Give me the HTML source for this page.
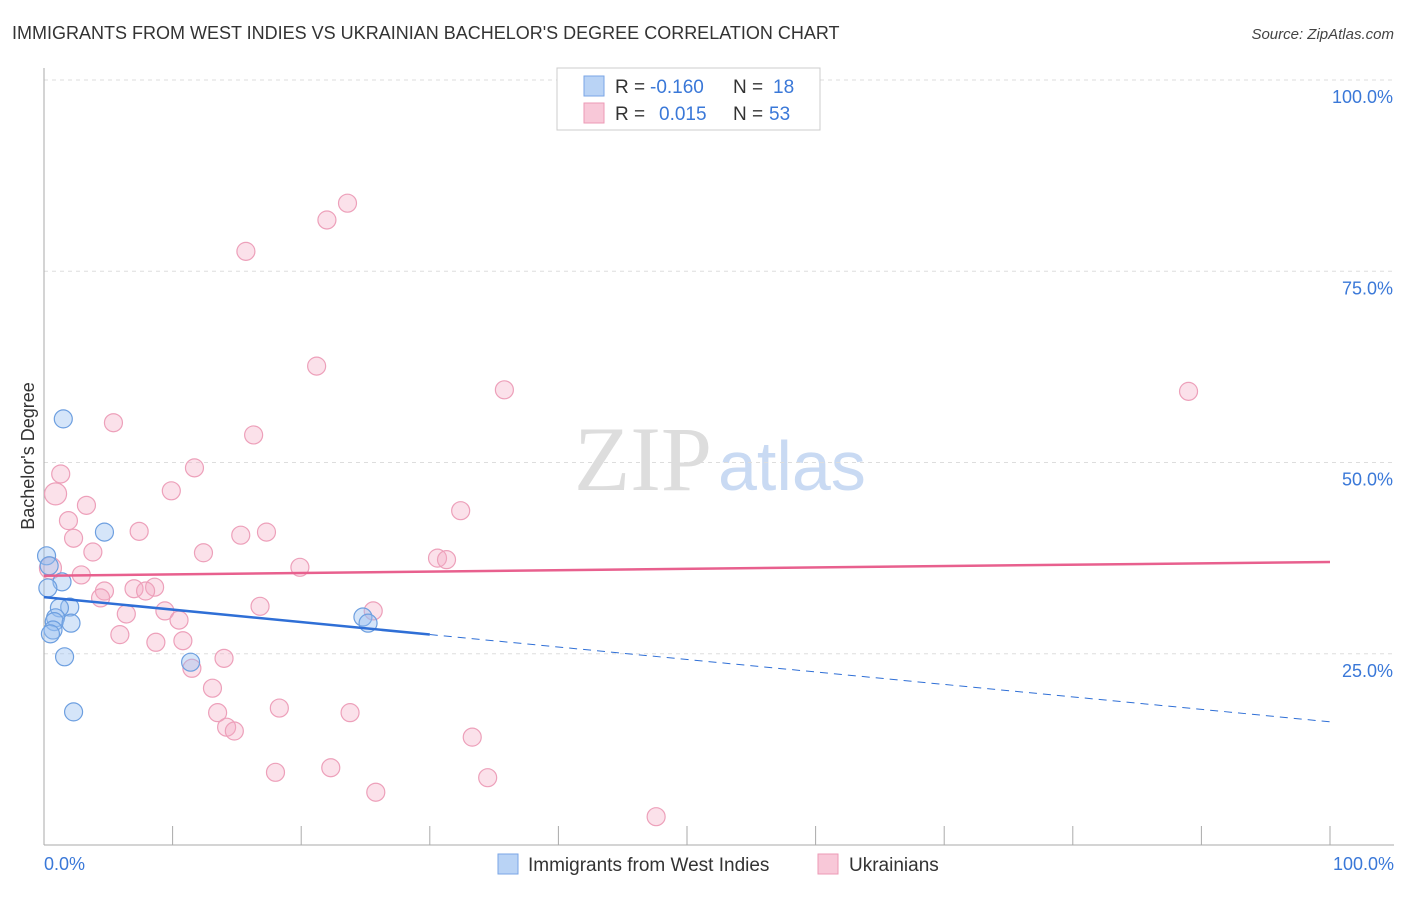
<!DOCTYPE html>
<html><head><meta charset="utf-8"><style>
body{margin:0;background:#fff;font-family:"Liberation Sans",sans-serif;}
</style></head><body>
<svg width="1406" height="892" xmlns="http://www.w3.org/2000/svg" font-family="Liberation Sans, sans-serif">
<text x="12" y="39" font-size="18" fill="#333">IMMIGRANTS FROM WEST INDIES VS UKRAINIAN BACHELOR'S DEGREE CORRELATION CHART</text>
<text x="1394" y="39" font-size="15" fill="#444" font-style="italic" text-anchor="end">Source: ZipAtlas.com</text>
<text x="712" y="490" font-size="92" fill="#ddd" text-anchor="end" font-family="Liberation Serif, serif">ZIP</text>
<text x="718" y="490" font-size="70" fill="#c9daf3">atlas</text>
<g id="grid"></g>
<line x1="44" y1="68" x2="44" y2="845" stroke="#aaa"/>
<line x1="44" y1="845" x2="1394" y2="845" stroke="#aaa"/>
<g id="xticks"></g>
<text transform="translate(34,456) rotate(-90)" font-size="18" fill="#333" text-anchor="middle">Bachelor's Degree</text>
<text x="44" y="870" font-size="18" fill="#3a78d8">0.0%</text>
<text x="1394" y="870" font-size="18" fill="#3a78d8" text-anchor="end">100.0%</text>
<g id="pts"></g>
<g id="lines"></g>
<g>
<rect x="557" y="68" width="263" height="62" fill="#fff" stroke="#ccc"/>
<rect x="584" y="76" width="20" height="20" fill="#b9d3f5" stroke="#7aa6e6"/>
<rect x="584" y="103" width="20" height="20" fill="#f8c8d8" stroke="#ec9ab6"/>
<text x="615" y="93" font-size="19" fill="#333">R =</text><text x="650" y="93" font-size="19" fill="#3a78d8">-0.160</text>
<text x="733" y="93" font-size="19" fill="#333">N =</text><text x="773" y="93" font-size="19" fill="#3a78d8">18</text>
<text x="615" y="120" font-size="19" fill="#333">R =</text><text x="659" y="120" font-size="19" fill="#3a78d8">0.015</text>
<text x="733" y="120" font-size="19" fill="#333">N =</text><text x="769" y="120" font-size="19" fill="#3a78d8">53</text>
</g>
<g>
<rect x="498" y="854" width="20" height="20" fill="#b9d3f5" stroke="#7aa6e6"/>
<text x="528" y="871" font-size="19" fill="#333">Immigrants from West Indies</text>
<rect x="818" y="854" width="20" height="20" fill="#f8c8d8" stroke="#ec9ab6"/>
<text x="849" y="871" font-size="19" fill="#333">Ukrainians</text>
</g>
</svg>
<script>
const yTicks=[25,50,75,100];
const yTickLabels=["25.0%","50.0%","75.0%","100.0%"];
const xTicks=[0,10,20,30,40,50,60,70,80,90,100];
const blueX=[1.5,4.7,0.2,0.4,1.4,0.3,2.0,1.2,0.9,0.8,2.1,0.7,0.5,1.6,2.3,11.4,24.8,25.2];
const blueY=[55.7,40.9,37.8,36.5,34.4,33.6,31.1,31.0,29.7,29.2,29.0,28.1,27.6,24.6,17.4,23.9,29.8,29.0];
const pinkX=[23.6,22.0,15.7,21.2,35.8,89.0,5.4,16.3,1.3,11.7,0.9,9.9,3.3,1.9,32.4,7.4,2.3,15.3,17.3,3.8,12.4,30.6,31.3,19.9,0.5,2.9,7.0,8.6,4.7,7.9,4.4,9.4,10.5,6.4,16.8,25.6,5.9,10.8,8.7,11.5,14.0,13.1,13.5,14.2,14.8,18.3,23.8,33.3,18.0,22.3,34.5,25.8,47.6];
const pinkY=[83.9,81.7,77.6,62.6,59.5,59.3,55.2,53.6,48.5,49.3,45.9,46.3,44.4,42.4,43.7,41.0,40.1,40.5,40.9,38.3,38.2,37.5,37.3,36.3,36.2,35.3,33.5,33.7,33.2,33.2,32.3,30.6,29.4,30.2,31.2,30.6,27.5,26.7,26.5,23.1,24.4,20.5,17.3,15.4,14.9,17.9,17.3,14.1,9.5,10.1,8.8,6.9,3.7];
const blueTrend=[32.4,16.1];
const blueSolidEnd=30;
const pinkTrend=[35.2,37.0];
const NS="http://www.w3.org/2000/svg";
const X=v=>44+v*12.86, Y=v=>845-v*7.65;
function mk(t,a,p){const e=document.createElementNS(NS,t);for(const k in a)e.setAttribute(k,a[k]);p.appendChild(e);return e;}
const grid=document.getElementById('grid');
yTicks.forEach((t,i)=>{
 const l=mk('line',{x1:44,x2:1394,y1:Y(t),y2:Y(t),stroke:'#ddd','stroke-dasharray':'4,4'},grid);
 
 
 const tx=mk('text',{x:1393,y:Y(t)+23,'font-size':18,fill:'#3a78d8','text-anchor':'end'},grid);
 tx.textContent=yTickLabels[i];
 
 
});
const xt=document.getElementById('xticks');
xTicks.forEach(t=>{
 const l=mk('line',{x1:X(t),x2:X(t),y1:826,y2:845,stroke:'#aaa'},xt);
 
 
});
const pts=document.getElementById('pts');
pinkX.forEach((x,i)=>{
 const c=mk('circle',{cx:X(x),cy:Y(pinkY[i]),r:(i==10||i==24)?11:9,fill:'rgba(244,170,195,0.35)',stroke:'#eda0ba','stroke-width':1.2},pts);
 
 
});
blueX.forEach((x,i)=>{
 const c=mk('circle',{cx:X(x),cy:Y(blueY[i]),r:9,fill:'rgba(150,190,240,0.4)',stroke:'#6d9fe0','stroke-width':1.2},pts);
 
 
});
const ln=document.getElementById('lines');
const bAt=v=>blueTrend[0]+(blueTrend[1]-blueTrend[0])*v/100;
let l1=mk('line',{x1:X(0),y1:Y(bAt(0)),x2:X(blueSolidEnd),y2:Y(bAt(blueSolidEnd)),stroke:'#2f6fd6','stroke-width':2.5},ln);


let l2=mk('line',{x1:X(blueSolidEnd),y1:Y(bAt(blueSolidEnd)),x2:X(100),y2:Y(bAt(100)),stroke:'#2f6fd6','stroke-width':1,'stroke-dasharray':'8,6'},ln);


let l3=mk('line',{x1:X(0),y1:Y(pinkTrend[0]),x2:X(100),y2:Y(pinkTrend[1]),stroke:'#e8608e','stroke-width':2.5},ln);


</script>
</body></html>
